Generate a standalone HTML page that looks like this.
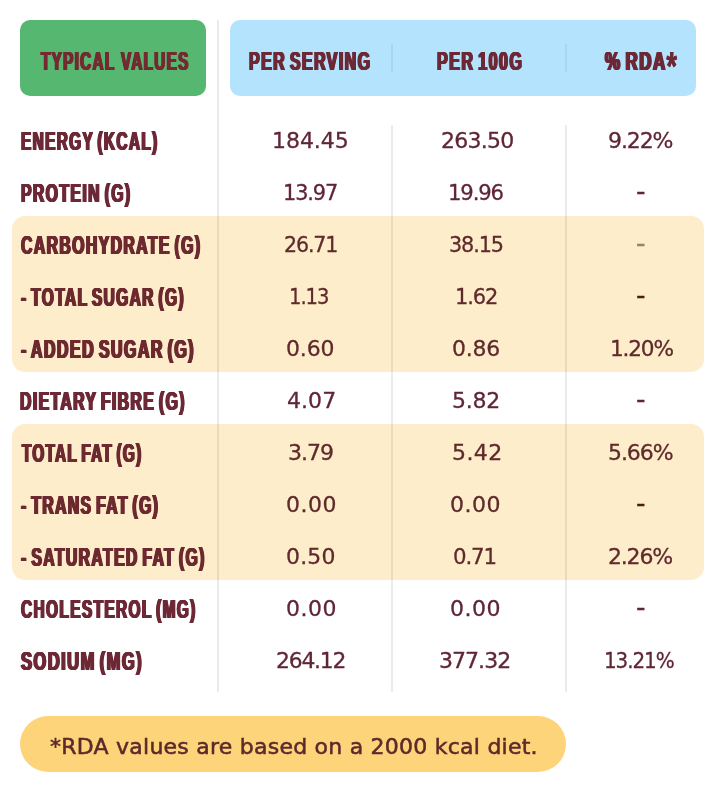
<!DOCTYPE html>
<html lang="en">
<head>
<meta charset="utf-8">
<title>Nutrition Facts</title>
<style>
html,body{margin:0;padding:0;background:#fff;}
body{width:716px;height:792px;position:relative;overflow:hidden;font-family:"Liberation Sans",sans-serif;}
.box{position:absolute;}
.green{left:20px;top:20px;width:186px;height:76px;border-radius:10px;background:#56b870;}
.blue{left:230px;top:20px;width:466px;height:76px;border-radius:10px;background:#b4e3fe;}
.hl{left:12px;width:692px;height:156px;border-radius:13px;background:#feedca;}
.vl{position:absolute;width:2px;background:rgba(0,0,0,0.08);}
.hd{background:rgba(0,50,90,0.075);}
.pill{left:20px;top:716px;width:546px;height:56px;border-radius:28px;background:#fdd479;}
.t{position:absolute;white-space:nowrap;transform-origin:0 0;margin:0;padding:0;}
.l{font:bold 25px/30px "Liberation Sans",sans-serif;letter-spacing:2.2px;word-spacing:-3.3px;text-shadow:1.35px 0 0 currentColor,-1.35px 0 0 currentColor,0.7px 0 0 currentColor,-0.7px 0 0 currentColor;color:#6d2836;}
.ast{font-size:40px;line-height:0;vertical-align:-9.6px;letter-spacing:0;margin-left:-0.5px;text-shadow:0.5px 0 0 currentColor,-0.5px 0 0 currentColor;}
.v{font:22px/30px "DejaVu Sans","Liberation Sans",sans-serif;-webkit-text-stroke:0.3px currentColor;color:#5f2636;}
.f{font:22px/30px "DejaVu Sans","Liberation Sans",sans-serif;-webkit-text-stroke:0.55px currentColor;color:#5c2a2c;}
</style>
</head>
<body>
<div class="box hl" style="top:216px"></div>
<div class="box hl" style="top:424px"></div>
<div class="box green"></div>
<div class="box blue"></div>
<div class="vl" style="left:217px;top:20px;height:672px"></div>
<div class="vl hd" style="left:391px;top:44px;height:28px"></div>
<div class="vl hd" style="left:565px;top:44px;height:28px"></div>
<div class="vl" style="left:391px;top:125px;height:567px"></div>
<div class="vl" style="left:565px;top:125px;height:567px"></div>
<div class="box pill"></div>

<div class="t l" style="left:40.70px;top:46.00px;transform:scaleX(0.6085);color:#742a31;word-spacing:0.4px;">TYPICAL VALUES</div>
<div class="t l" style="left:249.14px;top:46.00px;transform:scaleX(0.6402);">PER SERVING</div>
<div class="t l" style="left:436.74px;top:46.00px;transform:scaleX(0.6451);">PER 100G</div>
<div class="t l" style="left:605.12px;top:46.00px;transform:scaleX(0.6783);">% RDA<span class="ast">*</span></div>
<div class="t l" style="left:20.75px;top:126.00px;transform:scaleX(0.6157);">ENERGY (KCAL)</div>
<div class="t l" style="left:21.25px;top:178.00px;transform:scaleX(0.6315);">PROTEIN (G)</div>
<div class="t l" style="left:21.30px;top:230.00px;transform:scaleX(0.6320);color:#6d2930;">CARBOHYDRATE (G)</div>
<div class="t l" style="left:21.46px;top:282.00px;transform:scaleX(0.6222);color:#6d2930;">- TOTAL SUGAR (G)</div>
<div class="t l" style="left:21.47px;top:334.00px;transform:scaleX(0.6418);color:#6d2930;">- ADDED SUGAR (G)</div>
<div class="t l" style="left:20.45px;top:386.00px;transform:scaleX(0.6325);">DIETARY FIBRE (G)</div>
<div class="t l" style="left:21.60px;top:438.00px;transform:scaleX(0.6089);color:#6d2930;">TOTAL FAT (G)</div>
<div class="t l" style="left:21.16px;top:490.00px;transform:scaleX(0.6292);color:#6d2930;">- TRANS FAT (G)</div>
<div class="t l" style="left:20.86px;top:542.00px;transform:scaleX(0.6307);color:#6d2930;">- SATURATED FAT (G)</div>
<div class="t l" style="left:20.70px;top:594.00px;transform:scaleX(0.6181);">CHOLESTEROL (MG)</div>
<div class="t l" style="left:20.90px;top:646.00px;transform:scaleX(0.6606);">SODIUM (MG)</div>
<div class="t v" style="left:272.19px;top:126.00px;transform:scaleX(1.0020);letter-spacing:-0.08px;">184.45</div>
<div class="t v" style="left:440.60px;top:126.00px;transform:scaleX(1.0011);letter-spacing:-0.75px;">263.50</div>
<div class="t v" style="left:608.17px;top:126.00px;transform:scaleX(0.9997);letter-spacing:-1.1px;">9.22%</div>
<div class="t v" style="left:282.81px;top:178.00px;transform:scaleX(0.9487);letter-spacing:-1.2px;">13.97</div>
<div class="t v" style="left:448.28px;top:178.00px;transform:scaleX(0.9626);letter-spacing:-1.2px;">19.96</div>
<div class="t v" style="left:636.34px;top:176.08px;transform:scale(1.1948,1.100);">-</div>
<div class="t v" style="left:284.19px;top:230.00px;transform:scaleX(0.9352);letter-spacing:-1.2px;color:#5e2a2c;">26.71</div>
<div class="t v" style="left:449.11px;top:230.00px;transform:scaleX(0.9452);letter-spacing:-1.2px;color:#5e2a2c;">38.15</div>
<div class="t v" style="left:636.34px;top:228.08px;transform:scale(1.1948,1.100);color:#9c8068;">-</div>
<div class="t v" style="left:289.00px;top:282.00px;transform:scaleX(0.8900);letter-spacing:-1.2px;color:#5e2a2c;">1.13</div>
<div class="t v" style="left:454.80px;top:282.00px;transform:scaleX(0.9521);letter-spacing:-1.2px;color:#5e2a2c;">1.62</div>
<div class="t v" style="left:636.34px;top:280.08px;transform:scale(1.1948,1.100);color:#4a2014;">-</div>
<div class="t v" style="left:285.68px;top:334.00px;transform:scaleX(0.9966);letter-spacing:-0.11px;color:#5e2a2c;">0.60</div>
<div class="t v" style="left:451.93px;top:334.00px;transform:scaleX(0.9964);letter-spacing:-0.2px;color:#5e2a2c;">0.86</div>
<div class="t v" style="left:610.23px;top:334.00px;transform:scaleX(0.9824);letter-spacing:-1.2px;color:#5e2a2c;">1.20%</div>
<div class="t v" style="left:286.95px;top:386.00px;transform:scaleX(0.9992);letter-spacing:0.06px;">4.07</div>
<div class="t v" style="left:452.25px;top:386.00px;transform:scaleX(1.0004);letter-spacing:-0.21px;">5.82</div>
<div class="t v" style="left:636.34px;top:384.08px;transform:scale(1.1948,1.100);">-</div>
<div class="t v" style="left:288.02px;top:438.00px;transform:scaleX(1.0010);letter-spacing:-1.04px;color:#5e2a2c;">3.79</div>
<div class="t v" style="left:451.50px;top:438.00px;transform:scaleX(1.0026);letter-spacing:0.37px;color:#5e2a2c;">5.42</div>
<div class="t v" style="left:608.00px;top:438.00px;transform:scaleX(0.9991);letter-spacing:-1.06px;color:#5e2a2c;">5.66%</div>
<div class="t v" style="left:285.68px;top:490.00px;transform:scaleX(0.9967);letter-spacing:0.56px;color:#5e2a2c;">0.00</div>
<div class="t v" style="left:449.92px;top:490.00px;transform:scaleX(1.0016);letter-spacing:0.47px;color:#5e2a2c;">0.00</div>
<div class="t v" style="left:636.34px;top:488.08px;transform:scale(1.1948,1.100);color:#4a2014;">-</div>
<div class="t v" style="left:286.18px;top:542.00px;transform:scaleX(0.9967);letter-spacing:0.22px;color:#5e2a2c;">0.50</div>
<div class="t v" style="left:453.22px;top:542.00px;transform:scaleX(0.9684);letter-spacing:-1.2px;color:#5e2a2c;">0.71</div>
<div class="t v" style="left:607.60px;top:542.00px;transform:scaleX(1.0001);letter-spacing:-1.2px;color:#5e2a2c;">2.26%</div>
<div class="t v" style="left:285.68px;top:594.00px;transform:scaleX(0.9967);letter-spacing:0.56px;">0.00</div>
<div class="t v" style="left:449.92px;top:594.00px;transform:scaleX(1.0016);letter-spacing:0.47px;">0.00</div>
<div class="t v" style="left:636.34px;top:592.08px;transform:scale(1.1948,1.100);">-</div>
<div class="t v" style="left:276.11px;top:646.00px;transform:scaleX(0.9929);letter-spacing:-1.2px;">264.12</div>
<div class="t v" style="left:438.52px;top:646.00px;transform:scaleX(1.0014);letter-spacing:-0.98px;">377.32</div>
<div class="t v" style="left:603.66px;top:646.00px;transform:scaleX(0.9071);letter-spacing:-1.2px;">13.21%</div>
<div class="t f" style="left:49.99px;top:732.00px;transform:scaleX(0.9996);letter-spacing:0.24px;">*RDA values are based on a 2000 kcal diet.</div>
</body>
</html>
